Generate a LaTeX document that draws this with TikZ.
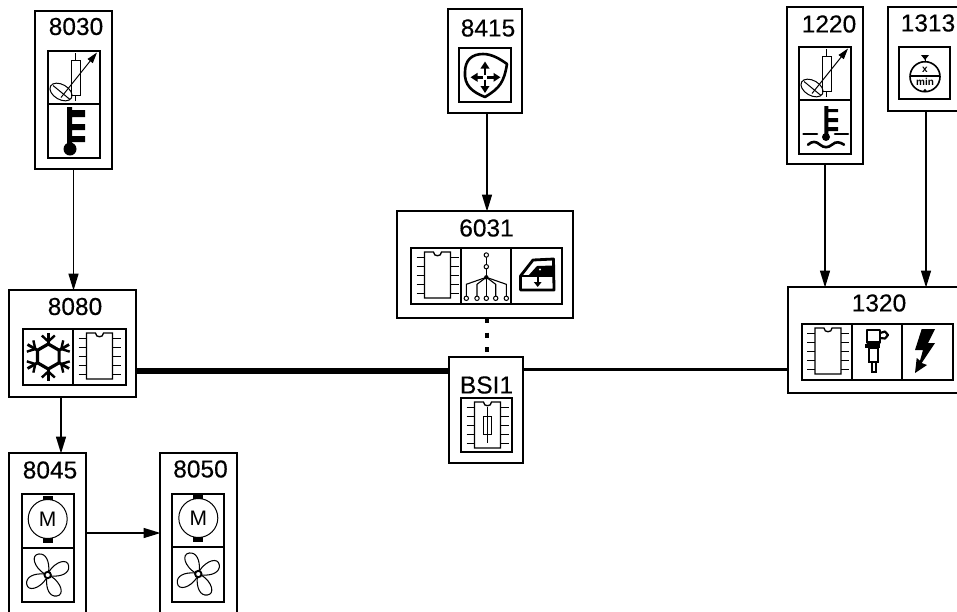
\documentclass[tikz,border=0pt]{standalone}
\usepackage{fontspec}
\setmainfont{Liberation Sans}
\newfontfamily\labfont[FakeBold=0.35]{Liberation Sans}
\usetikzlibrary{arrows.meta,calc}
\tikzset{
  modbox/.style={draw=black,line width=1.4pt,inner sep=0pt,outer sep=0pt},
  lab/.style={inner sep=0pt,font=\labfont\fontsize{24.5}{24.5}\selectfont},
  cell/.style={draw=black,line width=1.6pt},
  thin icon/.style={line width=1pt},
  link/.style={draw=black,line width=1.5pt,-{Triangle[width=10pt,length=17pt]},shorten >=-0.5pt},
  bold arrow/.style={line width=2.6pt,-{Triangle[width=8.5pt,length=7pt]}},
}
\newcommand{\Bx}[5]{%
  \pgfmathsetmacro\bxw{#4-#2}\pgfmathsetmacro\bxh{#5-#3}%
  \node[modbox,minimum width=\bxw pt,minimum height=\bxh pt] (#1) at ({(#2+#4)/2},{(#3+#5)/2}) {};}
\newcommand{\Chip}[2]{%
  \begin{scope}[shift={(#1,#2)},thin icon]
    \draw[line width=1.3pt] (-13,-23) -- (-4,-23) .. controls (-4,-18) and (4,-18) .. (4,-23) -- (13,-23) -- (13,23) -- (-13,23) -- cycle;
    \foreach \p in {-18,-9,0,9,18} {\draw (-21,\p) -- (-13,\p); \draw (13,\p) -- (21,\p);}
  \end{scope}}
\newcommand{\Sensor}[2]{%
  \begin{scope}[shift={(#1,#2)},thin icon]
    \draw (-3,-17.5) rectangle (6,17.5);
    \draw (1,-24.5) -- (1,-17.5) (1,17.5) -- (1,23.5);
    \draw[-{Triangle[width=6.5pt,length=11pt]}] (-13,20) -- (23,-25);
    \draw[rotate around={-30:(-13,14.5)}] (-13,14.5) ellipse [x radius=12,y radius=7.5];
    \draw (-21,8) -- (-4,22);
  \end{scope}}
\newcommand{\Motor}[3]{%
  \begin{scope}[shift={(#1,#2)}]
    \draw[line width=1pt] (0,0) circle [radius=19.5];
    \fill (-5,-23.5) rectangle (5,-19);
    \fill (-5,19) rectangle (5,23.5);
    \node[inner sep=0pt,font=\fontsize{21}{21}\selectfont] (#3) at (0,0) {M};
  \end{scope}}
\newcommand{\Fan}[2]{%
  \begin{scope}[shift={(#1,#2)}]
    \foreach \a in {0,90,180,270} {
      \draw[line width=1.05pt,rotate=\a] (1,-3) .. controls (2,-14) and (-2,-22) .. (-9,-21) .. controls (-17,-20) and (-14,-8) .. (-3,-1);
    }
    \draw[fill=white,line width=1.9pt] (0,0) circle [radius=3.2];
  \end{scope}}
\begin{document}
\begin{tikzpicture}[x=1pt,y=-1pt]
\useasboundingbox (0,0) rectangle (957,611);
\fill[white] (0,0) rectangle (957,611);
\clip (0,0) rectangle (957,611);
% module boxes
\Bx{n8030}{35}{11}{112}{169}
\Bx{n8080}{9}{290}{136}{397}
\Bx{n8045}{9}{453}{86}{625}
\Bx{n8050}{160}{453}{237}{625}
\Bx{n8415}{448}{9}{522}{113}
\Bx{n6031}{397}{211}{573}{318}
\Bx{nBSI}{449}{357}{523}{463}
\Bx{n1220}{787}{7}{863}{164}
\Bx{n1313}{888}{7}{975}{111}
\Bx{n1320}{788}{287}{975}{393}
% labels
\node[lab] (t8030) at (76,26.5) {8030};
\node[lab] (t8080) at (75,306.5) {8080};
\node[lab] (t8045) at (50,470) {8045};
\node[lab] (t8050) at (200.5,469) {8050};
\node[lab] (t8415) at (488,28) {8415};
\node[lab] (t6031) at (486.5,228) {6031};
\node[lab] (tBSI) at (486.5,385) {BSI1};
\node[lab] (t1220) at (829,24) {1220};
\node[lab] (t1313) at (928,23) {1313};
\node[lab] (t1320) at (879,303) {1320};
% cells
\draw[cell] (48,51) rectangle (100,158) (48,104) -- (100,104);
\draw[cell] (23,329) rectangle (126,385) (73,329) -- (73,385);
\draw[cell] (22,494) rectangle (74,602) (22,548) -- (74,548);
\draw[cell] (172,494) rectangle (224,602) (172,547) -- (224,547);
\draw[cell] (459,48) rectangle (511,102);
\draw[cell] (411,248) rectangle (562,304) (461,248) -- (461,304) (511,248) -- (511,304);
\draw[cell] (461,398) rectangle (512,452);
\draw[cell] (799,47) rectangle (851,154) (799,100) -- (851,100);
\draw[cell] (899,47) rectangle (950,99);
\draw[cell] (802,324) rectangle (953,380) (852,324) -- (852,380) (902,324) -- (902,380);
% sensors and thermometers
\Sensor{74}{77.5}
\Sensor{825}{73.5}
\fill (67,107) rectangle (72,150) (72,110) rectangle (85,117) (72,124) rectangle (85,130) (72,136) rectangle (85,142);
\fill (70,149) circle [radius=6.5];
\fill (824.3,106) rectangle (828.3,136) (828,109) rectangle (838,112) (828,118) rectangle (838,122) (828,127) rectangle (838,131);
\fill (826,137) circle [radius=4];
\draw[line width=2.6pt,line cap=round] (803.5,134) -- (817,134) (835,134) -- (848,134);
\draw[line width=2.6pt,line cap=round] (808,144.7) .. controls (812,141) and (816,141) .. (820,144.7) .. controls (824,148) and (828,148) .. (832,144.7) .. controls (836,141) and (840,142) .. (844,144.7);
% chips
\Chip{99.5}{356}
\Chip{437.5}{275}
\Chip{828}{351}
\Chip{487.5}{425}
\draw[thin icon] (483,416) rectangle (491,434) (487,407) -- (487,443);
% snowflake
\begin{scope}[shift={(48.3,356.5)}]
  \draw[line width=3.2pt,line join=miter] (90:12.5) -- (150:12.5) -- (210:12.5) -- (270:12.5) -- (330:12.5) -- (30:12.5) -- cycle;
  \foreach \a in {30,90,150,210,270,330} {
    \begin{scope}[rotate=\a]
      \draw[line width=2.8pt] (12,0) -- (24,0);
      \draw[line width=2.4pt] (21,-6.5) -- (15,0) -- (21,6.5);
    \end{scope}
  }
\end{scope}
% motors and fans
\Motor{47.7}{519}{m8045}
\Motor{198.3}{518}{m8050}
\Fan{47.7}{575}
\Fan{198.3}{574}
% shield with arrows
\draw[line width=2.6pt,line join=round] (507,64) .. controls (504,82) and (500,88) .. (485,97) .. controls (472,92) and (464,85) .. (465,72) .. controls (465,60) and (472,54) .. (483,54) .. controls (492,54) and (500,59) .. (507,64) -- cycle;
\draw[bold arrow] (485,75) -- (485,61.5);
\draw[bold arrow] (485,79.5) -- (485,93);
\draw[bold arrow] (483,77.3) -- (470.5,77.3);
\draw[bold arrow] (487,77.3) -- (500.5,77.3);
% multiplex tree
\draw[line width=1.1pt] (486.3,255) -- (486.3,296);
\draw[line width=1.1pt] (486.3,277.3) -- (466.3,284.3) -- (466.3,296);
\draw[line width=1.1pt] (486.3,277.3) -- (477,284.3) -- (477,296);
\draw[line width=1.1pt] (486.3,277.3) -- (495.7,284.3) -- (495.7,296);
\draw[line width=1.1pt] (486.3,277.3) -- (506.3,284.3) -- (506.3,296);
\fill (486.3,277.3) circle [radius=2.2];
\foreach \cx/\cy in {486.3/255,486.3/266.7,466.3/298.3,477/298.3,486.3/298.3,495.7/298.3,506.3/298.3}
  \draw[fill=white,line width=1pt] (\cx,\cy) circle [radius=2.2];
% window
\draw[line width=2.8pt,line join=round] (520.5,276) -- (533,260) -- (553.5,259) -- (554,290) -- (520.5,290) -- cycle;
\draw[line width=2.6pt] (520.5,276) -- (554,276);
\fill (528,276) -- (537,266) -- (553,265.5) -- (553,276) -- cycle;
\fill[white] (540,269.5) circle [radius=1.2];
\draw[line width=2.4pt,-{Triangle[width=7.5pt,length=5pt]}] (537.7,277) -- (537.7,287);
% injector
\draw[line width=2.2pt,line join=round] (867,330) rectangle (880,342.5);
\draw[line width=2.2pt,line join=round] (880,333) -- (885,331.5) -- (888,335) -- (885,338.5) -- (880,338);
\fill (865,343.5) rectangle (880,348);
\draw[line width=2pt] (869,348) rectangle (878,362);
\draw[line width=2pt] (871.5,362) rectangle (876,372);
% lightning
\fill (921.7,329) -- (935,329) -- (928,343) -- (935,343) -- (921.7,363) -- (927,365) -- (915,373) -- (916.7,358) -- (920,360.7) -- (923,350) -- (915,350) -- cycle;
% dial
\draw[line width=1.6pt] (925,76.7) circle [radius=15];
\draw[line width=1.6pt] (910,76) -- (940,76);
\fill (921,55) -- (929,55) -- (925,60) -- cycle;
\draw[line width=1pt] (925,58) -- (925,62);
\fill (925,90.5) circle [radius=1.6];
\node[inner sep=0pt,font=\bfseries\fontsize{10}{10}\selectfont] (dx) at (925,70) {x};
\node[inner sep=0pt,font=\bfseries\fontsize{10}{10}\selectfont] (dm) at (925,82) {min};
% connectors
\coordinate (x61) at (61,0);
\coordinate (x825) at (825,0);
\coordinate (x926) at (926,0);
\coordinate (y533) at (0,533);
\coordinate (yL) at (0,371);
\coordinate (yR) at (0,369);
\coordinate (x487) at (487,0);
\draw[link] (n8030.south) -- (n8030.south |- n8080.north);
\draw[link] (x61 |- n8080.south) -- (x61 |- n8045.north);
\draw[link] (n8045.east |- y533) -- (n8050.west |- y533);
\draw[link] (x487 |- n8415.south) -- (x487 |- n6031.north);
\draw[link] (x825 |- n1220.south) -- (x825 |- n1320.north);
\draw[link] (x926 |- n1313.south) -- (x926 |- n1320.north);
\draw[line width=5.5pt] (n8080.east |- yL) -- (nBSI.west |- yL);
\draw[line width=3pt] (nBSI.east |- yR) -- (n1320.west |- yR);
\draw[line width=4pt,dash pattern=on 5pt off 9.5pt] (x487 |- n6031.south) -- (x487 |- nBSI.north);
\end{tikzpicture}
\end{document}
